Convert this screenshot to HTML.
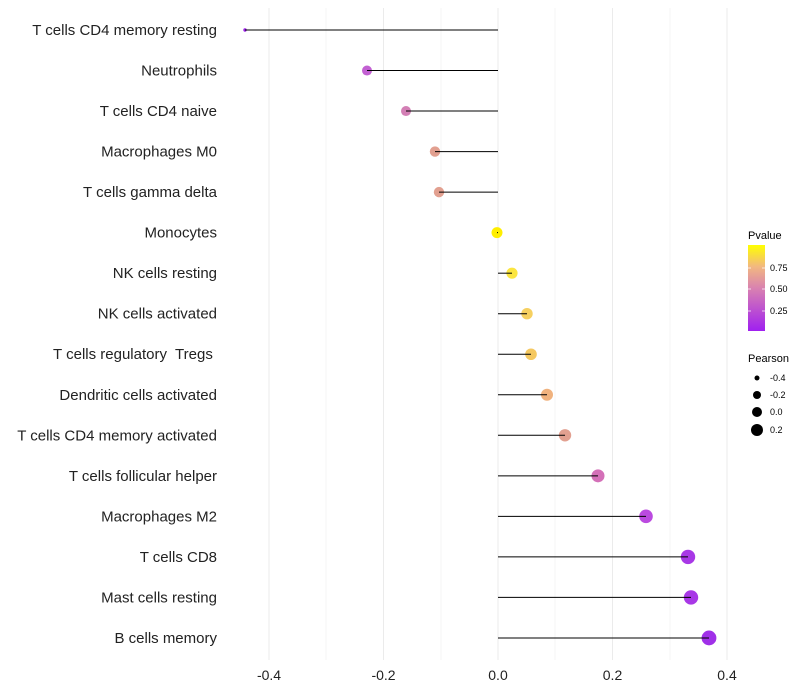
<!DOCTYPE html>
<html><head><meta charset="utf-8"><style>body{margin:0;background:#fff}svg{display:block;font-family:"Liberation Sans",sans-serif}</style></head><body>
<svg width="800" height="700" viewBox="0 0 800 700">
<defs><linearGradient id="g" x1="0" y1="1" x2="0" y2="0"><stop offset="0" stop-color="#a020f0"/><stop offset="0.5" stop-color="#d982b0"/><stop offset="0.75" stop-color="#f2b880"/><stop offset="1" stop-color="#ffff00"/></linearGradient></defs>
<g stroke="#ebebeb" stroke-width="1">
<line x1="269" y1="8" x2="269" y2="660"/><line x1="326" y1="8" x2="326" y2="660" stroke="#f4f4f4"/><line x1="383.5" y1="8" x2="383.5" y2="660"/><line x1="441" y1="8" x2="441" y2="660" stroke="#f4f4f4"/><line x1="498" y1="8" x2="498" y2="660"/><line x1="555" y1="8" x2="555" y2="660" stroke="#f4f4f4"/><line x1="612.5" y1="8" x2="612.5" y2="660"/><line x1="670" y1="8" x2="670" y2="660" stroke="#f4f4f4"/><line x1="727" y1="8" x2="727" y2="660"/>
</g>
<g id="d"></g>
<g font-size="14" fill="#222" text-anchor="middle"><text x="269" y="680">-0.4</text><text x="383.5" y="680">-0.2</text><text x="498" y="680">0.0</text><text x="612.5" y="680">0.2</text><text x="727" y="680">0.4</text></g>
<g font-size="11" fill="#000"><text x="748" y="239">Pvalue</text><rect x="748" y="245" width="17" height="86" fill="url(#g)"/>
<g stroke="#fff" stroke-opacity="0.7"><line x1="748" y1="268" x2="751" y2="268"/><line x1="762" y1="268" x2="765" y2="268"/><line x1="748" y1="289" x2="751" y2="289"/><line x1="762" y1="289" x2="765" y2="289"/><line x1="748" y1="311" x2="751" y2="311"/><line x1="762" y1="311" x2="765" y2="311"/></g>
<g font-size="9"><text x="770" y="271">0.75</text><text x="770" y="292">0.50</text><text x="770" y="314">0.25</text></g>
<text x="748" y="362">Pearson</text>
<circle cx="757" cy="378" r="2.5"/><circle cx="757" cy="395" r="4"/><circle cx="757" cy="412" r="5"/><circle cx="757" cy="430" r="6"/>
<g font-size="9"><text x="770" y="381">-0.4</text><text x="770" y="398">-0.2</text><text x="770" y="415">0.0</text><text x="770" y="433">0.2</text></g></g>
<g id="l" font-size="15" fill="#222" text-anchor="end"></g>
</svg>
<script>
var D=[["T cells CD4 memory resting",245,"#9b1fe8",1.7],["Neutrophils",367,"#c260d2",5],["T cells CD4 naive",406,"#d37fb5",5],["Macrophages M0",435,"#e2a090",5.2],["T cells gamma delta",439,"#e2a090",5.2],["Monocytes",497,"#ffee00",5.5],["NK cells resting",512,"#fbe540",5.6],["NK cells activated",527,"#f6d060",5.7],["T cells regulatory  Tregs ",531,"#f5c860",5.8],["Dendritic cells activated",547,"#f0b27e",6],["T cells CD4 memory activated",565,"#e2a090",6.2],["T cells follicular helper",598,"#d470b8",6.5],["Macrophages M2",646,"#bb4ae0",6.8],["T cells CD8",688,"#a838e6",7.2],["Mast cells resting",691,"#a838e6",7.2],["B cells memory",709,"#a030e8",7.4]];
var s="",t="";D.forEach(function(d,i){var y=30+i*40.53;s+='<circle cx="'+d[1]+'" cy="'+y+'" r="'+d[3]+'" fill="'+d[2]+'"/><line x1="'+d[1]+'" y1="'+y+'" x2="498" y2="'+y+'" stroke="#000" stroke-width="1"/>';t+='<text x="217" y="'+(y+5)+'" xml:space="preserve">'+d[0]+'</text>';});
document.getElementById("d").innerHTML=s;document.getElementById("l").innerHTML=t;
</script>
</body></html>
